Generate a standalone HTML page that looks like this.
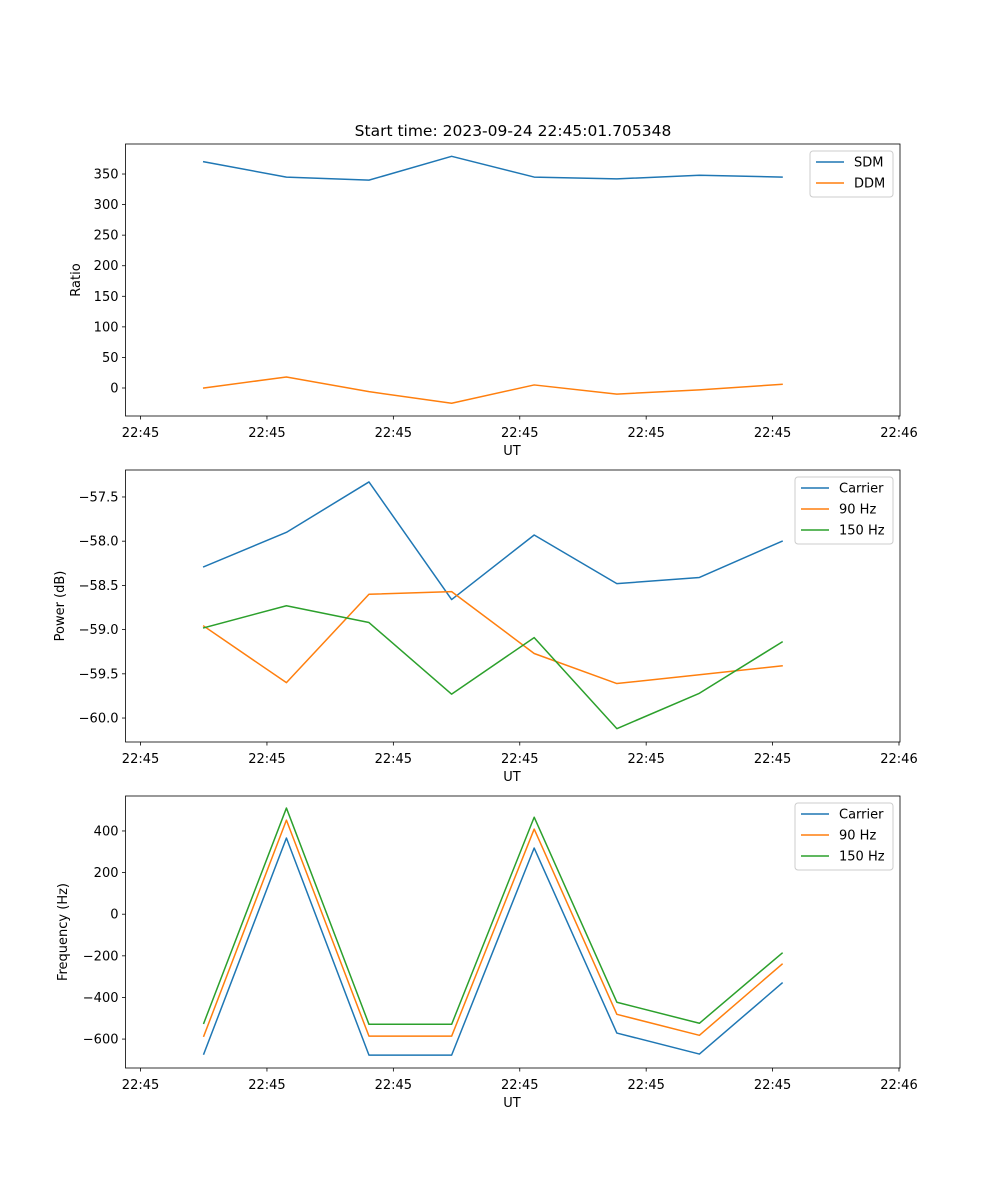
<!DOCTYPE html>
<html><head><meta charset="utf-8"><style>
body{margin:0;background:#fff}
svg{display:block;font-family:"DejaVu Sans","Liberation Sans",sans-serif}
</style></head><body>
<svg id="fig" width="1000" height="1200" viewBox="0 0 1000 1200">
<text x="513" y="136" font-size="15.5" text-anchor="middle">Start time: 2023-09-24 22:45:01.705348</text>
</svg>
<script>
// x values in seconds of the minute (22:45:xx)
const times = [54.5, 55.154, 55.807, 56.461, 57.114, 57.768, 58.421, 59.075];
const xTickVals = [54, 55, 56, 57, 58, 59, 60];
const xTickLabels = ["22:45","22:45","22:45","22:45","22:45","22:45","22:46"];

const sdm = [370, 345, 340, 379, 345, 342, 348, 345];
const ddm = [0, 18, -6, -25, 5, -10, -3, 6];
const ratioTicks = [0, 50, 100, 150, 200, 250, 300, 350];

const pwrCarrier = [-58.29, -57.90, -57.33, -58.66, -57.93, -58.48, -58.41, -58.0];
const pwr90 = [-58.96, -59.60, -58.60, -58.57, -59.27, -59.61, -59.51, -59.41];
const pwr150 = [-58.98, -58.73, -58.92, -59.73, -59.09, -60.12, -59.72, -59.14];
const pwrTicks = [-57.5, -58.0, -58.5, -59.0, -59.5, -60.0];
const pwrTickLabels = ["\u221257.5","\u221258.0","\u221258.5","\u221259.0","\u221259.5","\u221260.0"];

const frqCarrier = [-672, 366, -677, -677, 318, -571, -672, -331];
const frq90 = [-586, 452, -586, -586, 409, -481, -582, -240];
const frq150 = [-524, 510, -529, -529, 466, -423, -524, -187];
const frqTicks = [400, 200, 0, -200, -400, -600];

const NS = "http://www.w3.org/2000/svg";
const svg = document.getElementById('fig');
const L = 125.5, R = 900;
const xMin = 53.881, xMax = 60.008;
function xs(t){ return L + (t - xMin) / (xMax - xMin) * (R - L); }
function mk(tag, attrs, parent){
  const e = document.createElementNS(NS, tag);
  for (const k in attrs) e.setAttribute(k, attrs[k]);
  (parent || svg).appendChild(e);
  return e;
}
function fmt(v){ return v < 0 ? "\u2212" + Math.abs(v) : String(v); }

function panel(name, top, bot, yMin, yMax, yTicks, yLabels, ylabel, ylabelX, series, legend){
  const g = mk('g', {});
  
  
  const ys = v => bot - (v - yMin) / (yMax - yMin) * (bot - top);
  yTicks.forEach((v, i) => {
    const y = ys(v);
    const tk = mk('line', {x1: L - 3.5, x2: L, y1: y, y2: y, stroke: '#000', 'stroke-width': 0.8}, g);
    
    
    const t = mk('text', {x: L - 7, y: y + 4.5, 'font-size': 13, 'text-anchor': 'end'}, g);
    
    
    t.textContent = yLabels ? yLabels[i] : fmt(v);
  });
  xTickVals.forEach((v, i) => {
    const x = xs(v);
    const tk = mk('line', {x1: x, x2: x, y1: bot, y2: bot + 3.5, stroke: '#000', 'stroke-width': 0.8}, g);
    
    
    const t = mk('text', {x: x, y: bot + 21, 'font-size': 13, 'text-anchor': 'middle'}, g);
    
    
    t.textContent = xTickLabels[i];
  });
  const xl = mk('text', {x: 512, y: bot + 39, 'font-size': 13, 'text-anchor': 'middle'}, g);
  
  
  xl.textContent = 'UT';
  const yl = mk('text', {x: ylabelX, y: (top + bot) / 2, 'font-size': 13, 'text-anchor': 'middle', transform: `rotate(-90 ${ylabelX} ${(top + bot) / 2})`}, g);
  
  
  yl.textContent = ylabel;
  series.forEach(s => {
    const d = s.vals.map((v, i) => (i ? 'L' : 'M') + xs(times[i]).toFixed(2) + ' ' + ys(v).toFixed(2)).join(' ');
    const p = mk('path', {d: d, fill: 'none', stroke: s.color, 'stroke-width': 1.5, 'stroke-linejoin': 'round', 'stroke-linecap': 'square'}, g);
    
    
  });
  const fr = mk('rect', {x: L, y: top, width: R - L, height: bot - top, fill: 'none', stroke: '#000', 'stroke-width': 0.8}, g);
  
  
  const lg = mk('g', {}, g);
  
  
  const n = series.length;
  const h = 4 + n * 21;
  mk('rect', {x: legend.x, y: top + 7, width: legend.w, height: h, rx: 3, fill: '#fff', stroke: '#ccc', 'stroke-width': 1}, lg);
  series.forEach((s, i) => {
    const y = top + 18 + i * 21;
    const e = mk('g', {}, lg);
    
    
    mk('line', {x1: legend.x + 6, x2: legend.x + 34, y1: y, y2: y, stroke: s.color, 'stroke-width': 1.5}, e);
    const t = mk('text', {x: legend.x + 44, y: y + 4.5, 'font-size': 13}, e);
    t.textContent = s.label;
  });
}
const C0 = '#1f77b4', C1 = '#ff7f0e', C2 = '#2ca02c';
panel('ratio-panel', 144, 416, -45.8, 399.1, ratioTicks, null, 'Ratio', 80,
  [{id: 'sdm-line', label: 'SDM', vals: sdm, color: C0}, {id: 'ddm-line', label: 'DDM', vals: ddm, color: C1}],
  {x: 810, w: 83});
panel('power-panel', 470, 742, -60.271, -57.195, pwrTicks, pwrTickLabels, 'Power (dB)', 64,
  [{id: 'power-carrier-line', label: 'Carrier', vals: pwrCarrier, color: C0},
   {id: 'power-90hz-line', label: '90 Hz', vals: pwr90, color: C1},
   {id: 'power-150hz-line', label: '150 Hz', vals: pwr150, color: C2}],
  {x: 795, w: 98});
panel('frequency-panel', 796, 1068, -739, 568, frqTicks, null, 'Frequency (Hz)', 67,
  [{id: 'freq-carrier-line', label: 'Carrier', vals: frqCarrier, color: C0},
   {id: 'freq-90hz-line', label: '90 Hz', vals: frq90, color: C1},
   {id: 'freq-150hz-line', label: '150 Hz', vals: frq150, color: C2}],
  {x: 795, w: 98});
</script>
</body></html>
